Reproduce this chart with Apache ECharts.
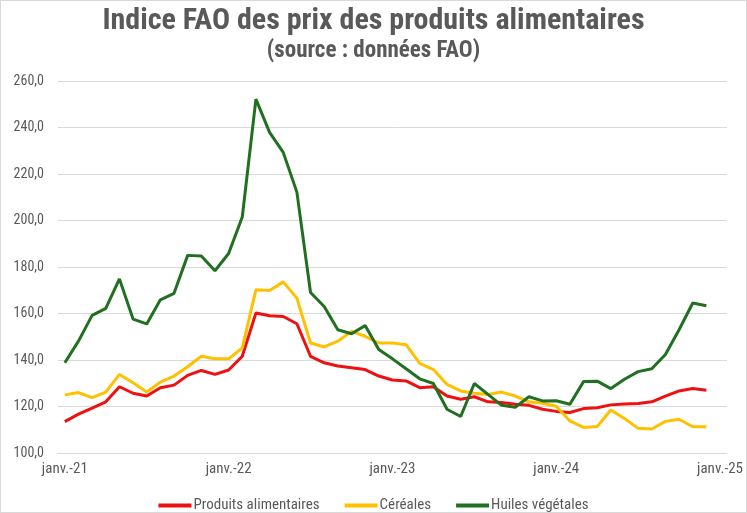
<!DOCTYPE html>
<html>
<head>
<meta charset="utf-8">
<script src="https://cdn.jsdelivr.net/npm/echarts@6/dist/echarts.min.js"></script>
<style>
  html, body { margin: 0; padding: 0; background: #fff; }
  #chart {
    width: 747px;
    height: 513px;
    box-sizing: border-box;
    border: 1px solid #d9d9d9;
  }
</style>
</head>
<body>
<div id="chart"></div>
<script>
// mois de janv.-21 à janv.-25 (le dernier sans valeur)
const months = [];
const moisNoms = ["janv.", "févr.", "mars", "avr.", "mai", "juin", "juil.", "août", "sept.", "oct.", "nov.", "déc."];
for (let y = 21; y <= 25; y++) {
  for (let m = 0; m < 12; m++) {
    if (y === 25 && m > 0) break;
    months.push(moisNoms[m] + "-" + y);
  }
}

const produitsAlimentaires = [
  113.5, 116.7, 119.3, 122.0, 128.5, 125.7, 124.5, 128.1, 129.2, 133.4, 135.5, 133.8,
  135.7, 141.6, 160.2, 159.0, 158.7, 155.6, 141.6, 138.8, 137.4, 136.7, 135.9, 133.1,
  131.4, 131.0, 128.1, 128.5, 124.5, 123.1, 124.2, 122.0, 121.7, 121.0, 120.5, 118.8,
  117.9, 117.4, 119.1, 119.5, 120.7, 121.1, 121.3, 122.0, 124.5, 126.7, 127.7, 127.0
];
const cereales = [
  125.0, 126.0, 123.8, 126.2, 133.8, 130.2, 126.2, 130.5, 133.1, 137.1, 141.6, 140.5,
  140.5, 145.2, 170.2, 169.9, 173.6, 166.6, 147.3, 145.6, 148.1, 152.3, 150.2, 147.3,
  147.3, 146.6, 138.5, 135.9, 129.5, 126.7, 125.7, 125.2, 126.2, 124.5, 122.0, 121.4,
  120.1, 113.8, 111.0, 111.4, 118.5, 114.8, 110.6, 110.3, 113.6, 114.5, 111.3, 111.3
];
const huilesVegetales = [
  138.8, 148.1, 159.2, 162.2, 174.9, 157.6, 155.5, 165.9, 168.7, 185.0, 184.7, 178.4,
  185.8, 201.5, 252.2, 237.9, 229.3, 212.2, 169.0, 163.0, 153.0, 151.3, 154.8, 144.5,
  140.5, 136.2, 131.9, 129.9, 118.8, 115.7, 129.9, 125.2, 120.5, 119.7, 124.2, 122.4,
  122.5, 121.0, 130.7, 130.9, 127.7, 131.7, 135.0, 136.2, 142.4, 153.0, 164.5, 163.3
];

const fontFam = "'Roboto Condensed', 'Roboto', sans-serif";
const grey = "#595959";

const chart = echarts.init(document.getElementById("chart"));

function serie(name, data, color) {
  return {
    name: name,
    type: "line",
    data: data,
    symbol: "none",
    lineStyle: { width: 3, color: color },
    itemStyle: { color: color },
    z: 3
  };
}

chart.setOption({
  animation: false,
  title: [
    {
      text: "Indice FAO des prix des produits alimentaires",
      left: "center",
      top: 0,
      textStyle: { fontFamily: fontFam, fontSize: 30, fontWeight: "bold", color: grey }
    },
    {
      text: "(source : données FAO)",
      left: "center",
      top: 34,
      textStyle: { fontFamily: fontFam, fontSize: 23, fontWeight: "bold", color: grey }
    }
  ],
  legend: {
    bottom: -6,
    left: "center",
    itemWidth: 33,
    itemHeight: 4,
    itemGap: 25,
    icon: "rect",
    textStyle: { fontFamily: fontFam, fontSize: 15, color: grey, padding: [0, 0, 0, -3] },
    data: ["Produits alimentaires", "Céréales", "Huiles végétales"]
  },
  grid: { left: 57, right: 19, top: 80, bottom: 59 },
  xAxis: {
    type: "category",
    data: months,
    boundaryGap: true,
    axisLine: { lineStyle: { color: "#d9d9d9" } },
    axisTick: { interval: 11, length: 5, lineStyle: { color: "#d9d9d9" } },
    axisLabel: {
      interval: 11,
      color: grey,
      fontFamily: fontFam,
      fontSize: 15,
      margin: 9
    },
    splitLine: { show: false }
  },
  yAxis: {
    type: "value",
    min: 100,
    max: 260,
    interval: 20,
    axisLine: { show: false },
    axisTick: { show: false },
    axisLabel: {
      color: grey,
      fontFamily: fontFam,
      fontSize: 14,
      margin: 14,
      formatter: v => v.toFixed(1).replace(".", ",")
    },
    splitLine: { lineStyle: { color: "#d9d9d9" } }
  },
  series: [
    serie("Produits alimentaires", produitsAlimentaires, "#ee1111"),
    serie("Céréales", cereales, "#ffc000"),
    serie("Huiles végétales", huilesVegetales, "#217021")
  ]
});
</script>
</body>
</html>
